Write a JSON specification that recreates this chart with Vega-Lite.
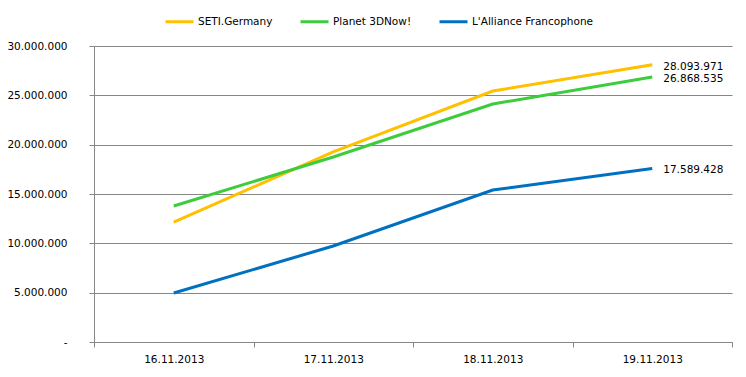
{
  "$schema": "https://vega.github.io/schema/vega-lite/v6.json",
  "width": 638,
  "height": 296,
  "autosize": {"type": "none"},
  "padding": {"left": 94, "top": 46, "right": 14, "bottom": 35},
  "background": "white",
  "config": {
    "locale": {"number": {"decimal": ",", "thousands": ".", "grouping": [3], "currency": ["", ""]}},
    "view": {"stroke": null},
    "font": "DejaVu Sans"
  },
  "data": {
    "values": [
      {"date": "16.11.2013", "team": "SETI.Germany", "value": 12160000},
      {"date": "17.11.2013", "team": "SETI.Germany", "value": 19260000},
      {"date": "18.11.2013", "team": "SETI.Germany", "value": 25440000},
      {"date": "19.11.2013", "team": "SETI.Germany", "value": 28093971},
      {"date": "16.11.2013", "team": "Planet 3DNow!", "value": 13780000},
      {"date": "17.11.2013", "team": "Planet 3DNow!", "value": 18750000},
      {"date": "18.11.2013", "team": "Planet 3DNow!", "value": 24120000},
      {"date": "19.11.2013", "team": "Planet 3DNow!", "value": 26868535},
      {"date": "16.11.2013", "team": "L'Alliance Francophone", "value": 4970000},
      {"date": "17.11.2013", "team": "L'Alliance Francophone", "value": 9730000},
      {"date": "18.11.2013", "team": "L'Alliance Francophone", "value": 15400000},
      {"date": "19.11.2013", "team": "L'Alliance Francophone", "value": 17589428}
    ]
  },
  "encoding": {
    "x": {
      "field": "date", "type": "ordinal",
      "scale": {"type": "band", "paddingInner": 0, "paddingOuter": 0},
      "axis": {"title": null, "labelAngle": 0, "tickBand": "extent", "tickSize": 5, "tickColor": "#868686", "domainColor": "#868686", "labelPadding": 7, "labelFontSize": 10.5, "labelColor": "#000000", "grid": false}
    },
    "y": {
      "field": "value", "type": "quantitative",
      "scale": {"domain": [0, 30000000], "nice": false},
      "axis": {"title": null, "values": [0, 5000000, 10000000, 15000000, 20000000, 25000000, 30000000], "format": ",d", "labelExpr": "datum.value == 0 ? '-' : datum.label", "grid": true, "gridColor": "#868686", "tickColor": "#868686", "domainColor": "#868686", "tickSize": 5, "labelPadding": 22, "labelFontSize": 10.5, "labelColor": "#000000"}
    }
  },
  "layer": [
    {
      "mark": {"type": "line", "strokeWidth": 3},
      "encoding": {
        "color": {
          "field": "team", "type": "nominal",
          "scale": {"domain": ["SETI.Germany", "Planet 3DNow!", "L'Alliance Francophone"], "range": ["#FFC000", "#3CCC3C", "#0070C0"]},
          "legend": {"title": null, "orient": "none", "direction": "horizontal", "legendX": 70, "legendY": -40, "symbolType": "stroke", "symbolSize": 784, "symbolStrokeWidth": 3, "labelFontSize": 10.5, "labelOffset": 3, "columnPadding": 21, "labelColor": "#000000"}
        }
      }
    },
    {
      "transform": [{"filter": "datum.date == '19.11.2013'"}],
      "mark": {"type": "text", "align": "left", "baseline": "middle", "dx": 11, "dy": 2, "fontSize": 10.5, "color": "#000000"},
      "encoding": {
        "text": {"field": "value", "type": "quantitative", "format": ",d"}
      }
    }
  ]
}
